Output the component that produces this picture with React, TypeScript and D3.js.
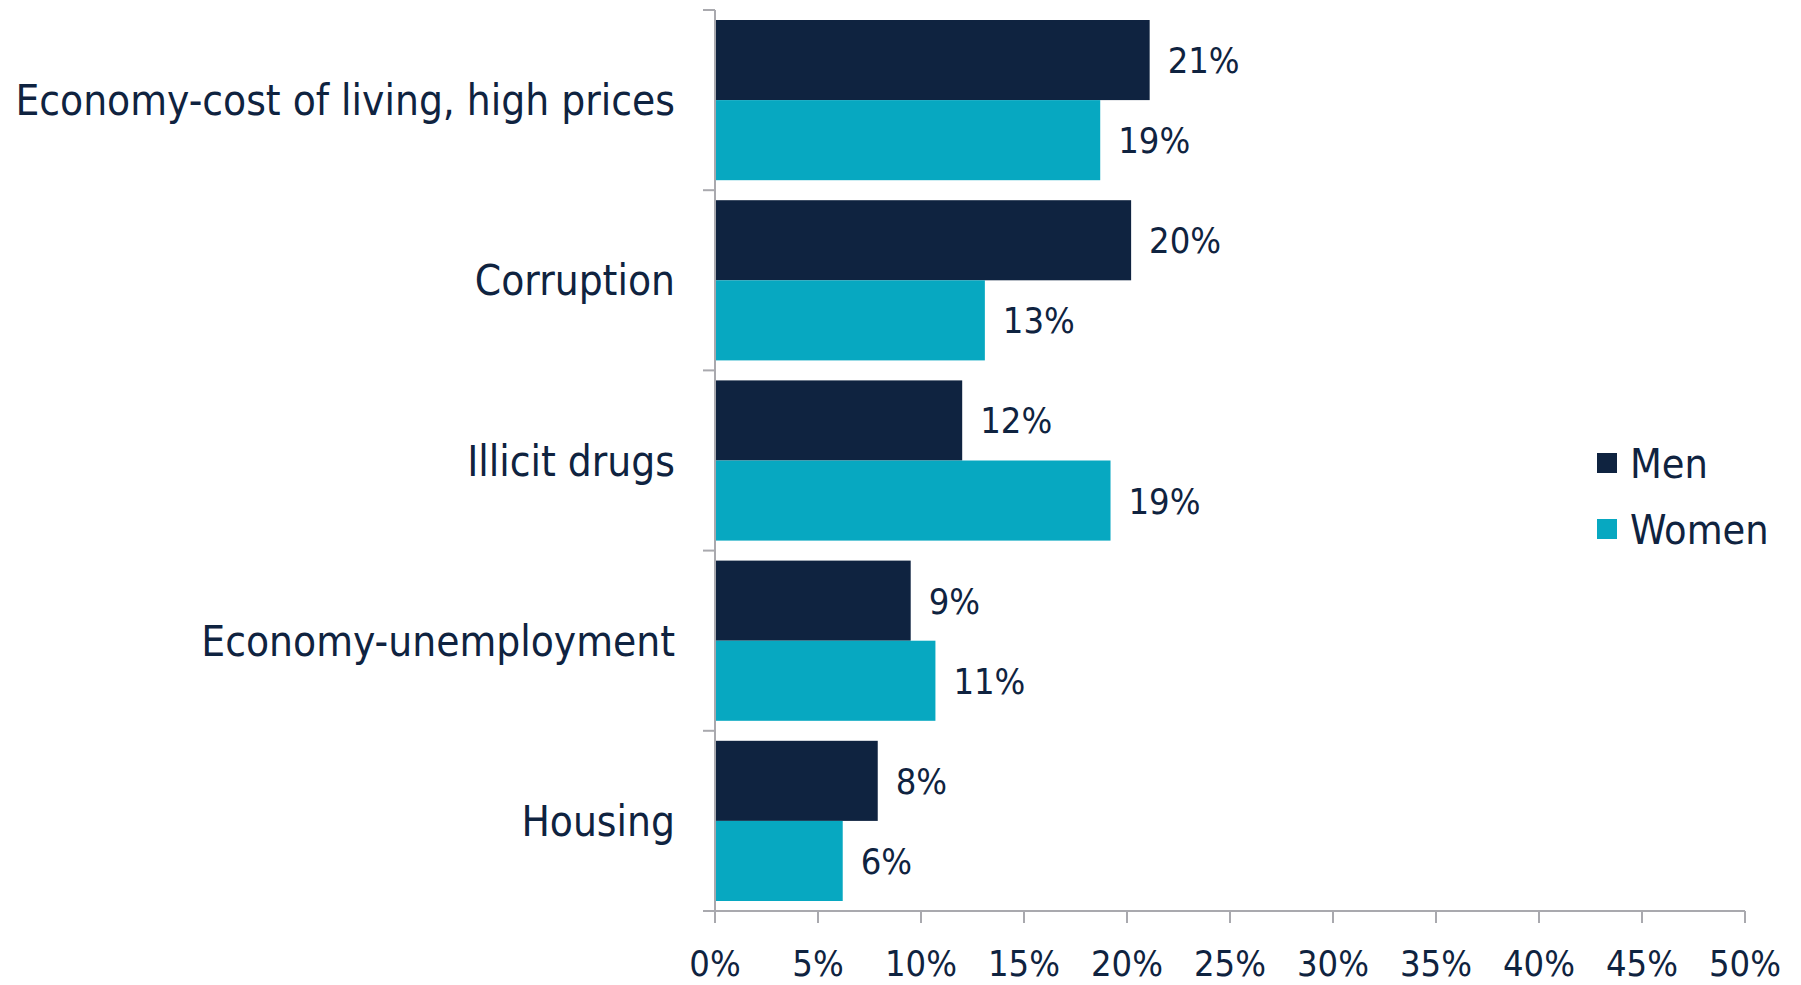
import React from "react";
import * as d3 from "d3";

const categories = [
  "Economy-cost of living, high prices",
  "Corruption",
  "Illicit drugs",
  "Economy-unemployment",
  "Housing",
];
const seriesNames = ["Men", "Women"];
const menValues = [21.1, 20.2, 12.0, 9.5, 7.9];
const womenValues = [18.7, 13.1, 19.2, 10.7, 6.2];
const menLabels = ["21%", "20%", "12%", "9%", "8%"];
const womenLabels = ["19%", "13%", "19%", "11%", "6%"];
const xTicks = [0, 5, 10, 15, 20, 25, 30, 35, 40, 45, 50];

const W = 1801;
const H = 985;
const colors = ["#0f2340", "#07a8c1"];
const textColor = "#0f2340";
const axisColor = "#a9a9ae";
const FONT = "'DejaVu Sans Condensed', 'Liberation Sans Narrow', sans-serif";

export default function App() {
  const left = 715;
  const right = 1745;
  const top = 10;
  const bottom = 911;
  const x = d3.scaleLinear().domain([0, 50]).range([left, right]);
  const y = d3.scaleBand<string>().domain(categories).range([top, bottom]).paddingInner(0).paddingOuter(0);
  const inner = d3
    .scaleBand<string>()
    .domain(seriesNames)
    .range([10, y.bandwidth() - 10]);
  const series = [menValues, womenValues];
  const labels = [menLabels, womenLabels];

  return (
    <svg
      width={W}
      height={H}
      style={{ position: "absolute", left: 0, top: 0, background: "#fff" }}
      fontFamily={FONT}
    >
      {categories.map((c, i) => (
        <g key={c}>
          {series.map((vals, s) => {
            const yy = (y(c) as number) + (inner(seriesNames[s]) as number);
            return (
              <g key={s}>
                <rect
                  x={x(0)}
                  y={yy}
                  width={x(vals[i]) - x(0)}
                  height={inner.bandwidth()}
                  fill={colors[s]}
                />
                <text
                  x={x(vals[i]) + 18}
                  y={yy + inner.bandwidth() / 2}
                  dy="0.36em"
                  fontSize={36}
                  fill={textColor}
                >
                  {labels[s][i]}
                </text>
              </g>
            );
          })}
          <text
            x={left - 40}
            y={(y(c) as number) + y.bandwidth() / 2}
            dy="0.36em"
            textAnchor="end"
            fontSize={42}
            fill={textColor}
          >
            {c}
          </text>
        </g>
      ))}
      {/* vertical axis */}
      <line x1={left} x2={left} y1={top} y2={bottom} stroke={axisColor} strokeWidth={2} />
      {d3.range(categories.length + 1).map((k) => {
        const yy = top + k * y.step();
        return (
          <line key={k} x1={left - 12} x2={left} y1={yy} y2={yy} stroke={axisColor} strokeWidth={2} />
        );
      })}
      {/* horizontal axis */}
      <line x1={left - 12} x2={right} y1={bottom} y2={bottom} stroke={axisColor} strokeWidth={2} />
      {xTicks.map((t) => (
        <g key={t}>
          <line x1={x(t)} x2={x(t)} y1={bottom} y2={bottom + 12} stroke={axisColor} strokeWidth={2} />
          <text x={x(t)} y={976} textAnchor="middle" fontSize={36} fill={textColor}>
            {t + "%"}
          </text>
        </g>
      ))}
      {/* legend */}
      {seriesNames.map((s, i) => (
        <g key={s}>
          <rect x={1597} y={453 + i * 66} width={20} height={20} fill={colors[i]} />
          <text x={1630} y={463 + i * 66} dy="0.36em" fontSize={41} fill={textColor}>
            {s}
          </text>
        </g>
      ))}
    </svg>
  );
}
